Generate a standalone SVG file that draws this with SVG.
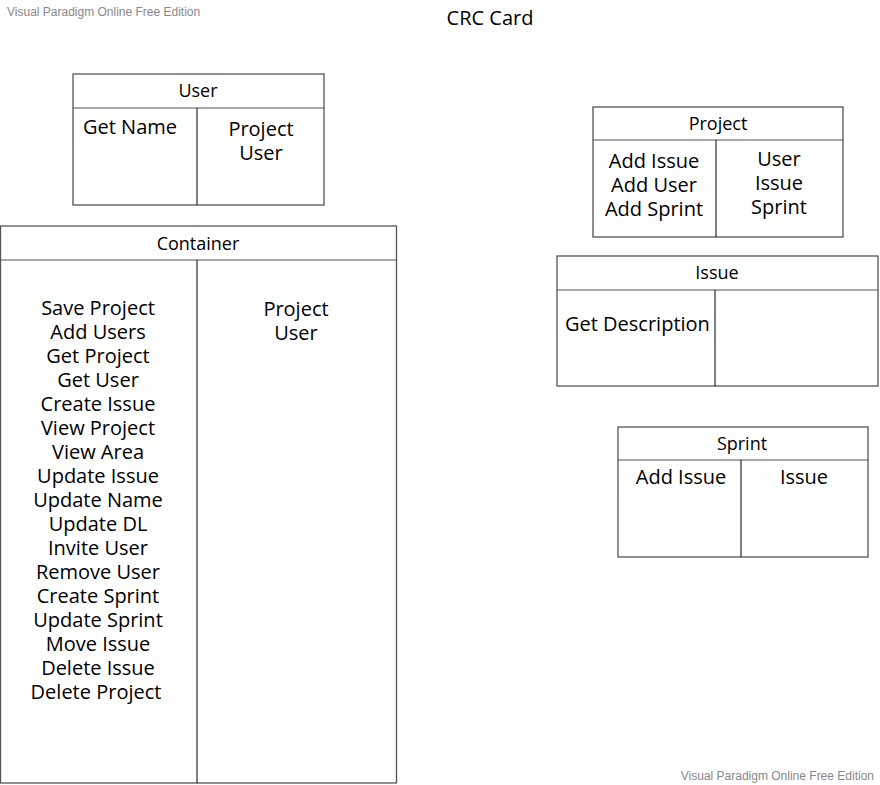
<svg xmlns="http://www.w3.org/2000/svg" width="880" height="785" viewBox="0 0 880 785">
<style>
.box{fill:#fff;stroke:#555;stroke-width:1.3}
.ln{stroke:#000;stroke-width:1}
.hd{stroke:#555;stroke-width:1.2}
.h{font-family:"Open Sans",sans-serif;font-size:18px;fill:#000;text-anchor:middle}
.b{font-family:"Open Sans",sans-serif;font-size:20px;fill:#000;text-anchor:middle}
.bl{font-family:"Open Sans",sans-serif;font-size:20px;fill:#000}
.wm{font-family:"Liberation Sans",Arial,sans-serif;font-size:12px;fill:#888}
</style>
<rect width="880" height="785" fill="#fff"/>
<text class="wm" x="7" y="16">Visual Paradigm Online Free Edition</text>
<text class="wm" x="874" y="780" text-anchor="end">Visual Paradigm Online Free Edition</text>
<text x="490" y="25" font-family="'Open Sans',sans-serif" font-size="20" text-anchor="middle" fill="#000">CRC Card</text>
<g id="user">
<rect class="box" x="73" y="74" width="251" height="131"/>
<line class="hd" x1="73" y1="108" x2="324" y2="108"/>
<line class="ln" x1="197" y1="108" x2="197" y2="205"/>
<text class="h" x="198" y="96.5">User</text>
<text class="bl" x="83" y="134">Get Name</text>
<text class="b" x="261" y="136">Project</text>
<text class="b" x="261" y="160">User</text>
</g>
<g id="container">
<rect class="box" x="0.5" y="226" width="396" height="557"/>
<line class="hd" x1="0.5" y1="260" x2="396" y2="260"/>
<line class="ln" x1="197" y1="260" x2="197" y2="783"/>
<text class="h" x="198" y="249.5">Container</text>
<text class="b" x="98" y="315">Save Project</text>
<text class="b" x="98" y="339">Add Users</text>
<text class="b" x="98" y="363">Get Project</text>
<text class="b" x="98" y="387">Get User</text>
<text class="b" x="98" y="411">Create Issue</text>
<text class="b" x="98" y="435">View Project</text>
<text class="b" x="98" y="459">View Area</text>
<text class="b" x="98" y="483">Update Issue</text>
<text class="b" x="98" y="507">Update Name</text>
<text class="b" x="98" y="531">Update DL</text>
<text class="b" x="98" y="555">Invite User</text>
<text class="b" x="98" y="579">Remove User</text>
<text class="b" x="98" y="603">Create Sprint</text>
<text class="b" x="98" y="627">Update Sprint</text>
<text class="b" x="98" y="651">Move Issue</text>
<text class="b" x="98" y="675">Delete Issue</text>
<text class="b" x="96" y="699">Delete Project</text>
<text class="b" x="296" y="316">Project</text>
<text class="b" x="296" y="340">User</text>
</g>
<g id="project">
<rect class="box" x="593" y="107" width="250" height="130"/>
<line class="hd" x1="593" y1="140" x2="843" y2="140"/>
<line class="ln" x1="716" y1="140" x2="716" y2="237"/>
<text class="h" x="718" y="129.5">Project</text>
<text class="b" x="654" y="168">Add Issue</text>
<text class="b" x="654" y="192">Add User</text>
<text class="b" x="654" y="216">Add Sprint</text>
<text class="b" x="779" y="166">User</text>
<text class="b" x="779" y="190">Issue</text>
<text class="b" x="779" y="214">Sprint</text>
</g>
<g id="issue">
<rect class="box" x="557" y="256" width="321" height="130"/>
<line class="hd" x1="557" y1="290" x2="878" y2="290"/>
<line class="ln" x1="715" y1="290" x2="715" y2="386"/>
<text class="h" x="717" y="278.5">Issue</text>
<text class="bl" x="565" y="331">Get Description</text>
</g>
<g id="sprint">
<rect class="box" x="618" y="427" width="250" height="130"/>
<line class="hd" x1="618" y1="460" x2="868" y2="460"/>
<line class="ln" x1="741" y1="460" x2="741" y2="557"/>
<text class="h" x="742" y="449.5">Sprint</text>
<text class="b" x="681" y="484">Add Issue</text>
<text class="b" x="804" y="484">Issue</text>
</g>
<g id="connectors"/>
</svg>
